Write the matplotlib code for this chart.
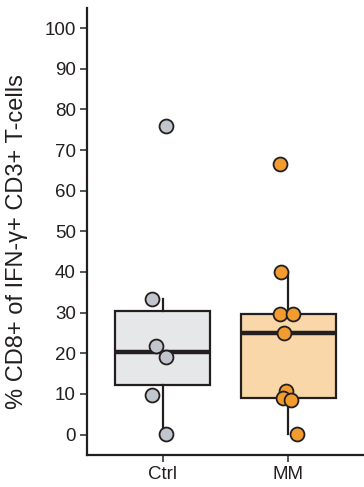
import numpy as np
import matplotlib.pyplot as plt

plt.rcParams['font.family'] = ['Liberation Sans', 'DejaVu Sans']

# --- data ---
groups = ["Ctrl", "MM"]
ctrl_vals = [76.0, 33.3, 21.8, 19.0, 9.8, 0.2]
ctrl_jit = [0.03, -0.08, -0.055, 0.025, -0.08, 0.025]
mm_vals = [66.6, 40.0, 29.7, 29.7, 25.1, 10.8, 9.0, 8.5, 0.2]
mm_jit = [-0.065, -0.06, -0.065, 0.035, -0.035, -0.02, -0.045, 0.02, 0.065]
yticks = [0, 10, 20, 30, 40, 50, 60, 70, 80, 90, 100]

box_fill = ["#e6e7e9", "#f9d7a9"]
pt_fill = ["#c1c5cc", "#f29c2f"]
dark = "#231f20"

fig = plt.figure(figsize=(3.64, 4.87), dpi=100)
ax = fig.add_axes([0.239, 0.066, 0.761, 0.918])

bp = ax.boxplot([ctrl_vals, mm_vals], positions=[1, 2], widths=0.75,
                patch_artist=True, showfliers=False, whis=1.5,
                medianprops=dict(color=dark, linewidth=3.2),
                whiskerprops=dict(color=dark, linewidth=1.6),
                capprops=dict(linewidth=0),
                boxprops=dict(edgecolor=dark, linewidth=1.6), zorder=1)
for patch, c in zip(bp['boxes'], box_fill):
    patch.set_facecolor(c)

for i, (vals, jit) in enumerate([(ctrl_vals, ctrl_jit), (mm_vals, mm_jit)]):
    xs = (i + 1) + np.array(jit)
    ax.scatter(xs, vals, s=100, facecolor=pt_fill[i], edgecolor=dark,
               linewidth=1.3, zorder=3)

ax.set_xlim(0.4, 2.6)
ax.set_ylim(-5, 105)
ax.set_yticks(yticks)
ax.set_xticks([1, 2])
ax.set_xticklabels(groups)

# y label placed by hand so it sits where the reference has it
fig.text(17 / 364, 1 - 242 / 487, "% CD8+ of IFN-γ+ CD3+ T-cells", rotation=90,
         ha='center', va='center', fontsize=17, color=dark)

ax.spines['top'].set_visible(False)
ax.spines['right'].set_visible(False)
for s in ['left', 'bottom']:
    ax.spines[s].set_linewidth(1.6)
    ax.spines[s].set_color(dark)
ax.tick_params(axis='both', length=5, width=1.3, color="#3d4a4d",
               labelsize=13.5, labelcolor=dark, pad=3)

fig.savefig("out.png", dpi=100)
